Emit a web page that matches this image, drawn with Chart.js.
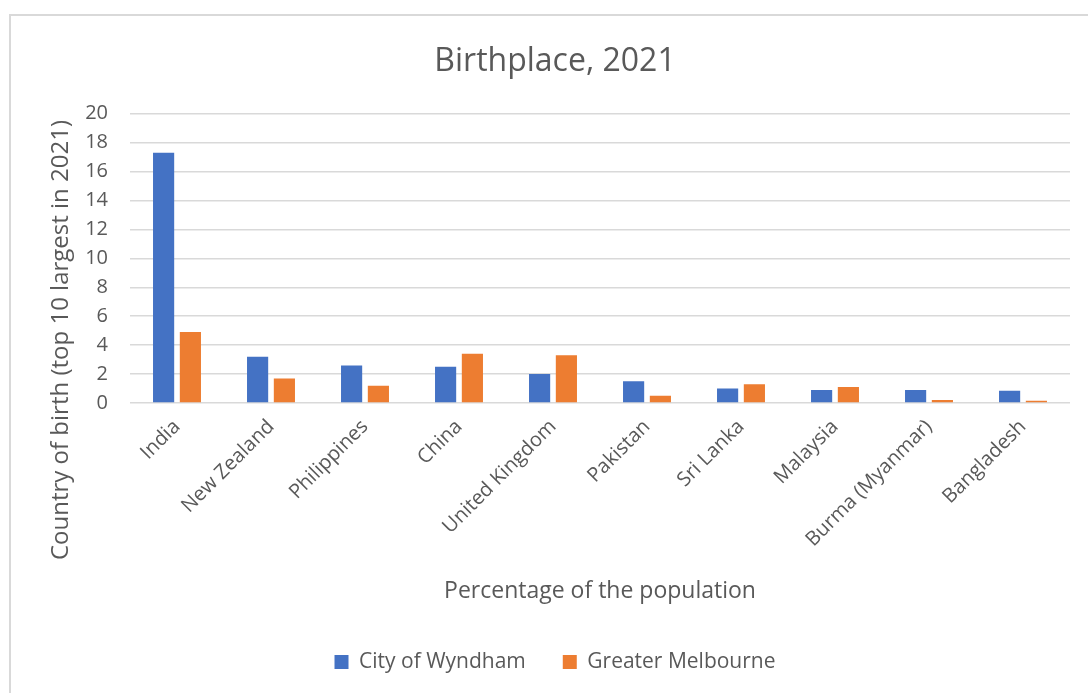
<!DOCTYPE html>
<html>
<head>
<meta charset="utf-8">
<script src="https://cdn.jsdelivr.net/npm/chart.js@4/dist/chart.umd.min.js"></script>
<style>
	body { margin: 0; background: #fff; }
	#frame { position: absolute; left: 9px; top: 14px; width: 1079px; height: 679px; border-left: 2px solid #d9d9d9; border-top: 2px solid #d9d9d9; }
	#wrap { position: absolute; left: 0; top: 0; width: 1070px; height: 693px; }
</style>
</head>
<body>
<div id="frame"></div>
<div id="wrap"><canvas id="chart" width="1070" height="693"></canvas></div>
<script>
const countries = ["India", "New Zealand", "Philippines", "China", "United Kingdom", "Pakistan", "Sri Lanka", "Malaysia", "Burma (Myanmar)", "Bangladesh"];
const wyndham = [17.3, 3.2, 2.6, 2.5, 2.0, 1.5, 1.0, 0.9, 0.9, 0.85];
const melbourne = [4.9, 1.7, 1.2, 3.4, 3.3, 0.5, 1.3, 1.1, 0.2, 0.15];
const yTicks = [0, 2, 4, 6, 8, 10, 12, 14, 16, 18, 20];

const grey = "#595959";
const font = "'Open Sans', 'DejaVu Sans', sans-serif";

// y title sits lower than the plot centre, like the original
const yTitle = {
	id: "yTitle",
	afterDraw: function (chart) {
		const ctx = chart.ctx;
		ctx.save();
		ctx.translate(61, 340);
		ctx.rotate(-Math.PI / 2);
		ctx.font = "24px " + font;
		ctx.fillStyle = grey;
		ctx.textAlign = "center";
		ctx.textBaseline = "middle";
		ctx.fillText("Country of birth (top 10 largest in 2021)", 0, 0);
		ctx.restore();
	}
};

new Chart(document.getElementById("chart").getContext("2d"), {
	type: "bar",
	data: {
		labels: countries,
		datasets: [{
			label: "City of Wyndham",
			data: wyndham,
			backgroundColor: "#4472C4"
		}, {
			label: "Greater Melbourne",
			data: melbourne,
			backgroundColor: "#ED7D31"
		}]
	},
	options: {
		responsive: false,
		animation: false,
		categoryPercentage: 0.57,
		barPercentage: 0.79,
		layout: {
			padding: { top: 20, left: 40, right: 0, bottom: 10.5 }
		},
		plugins: {
			title: {
				display: true,
				text: "Birthplace, 2021",
				color: grey,
				font: { family: font, size: 32, weight: "normal" },
				padding: { top: 22.8, bottom: 32.5 }
			},
			legend: {
				position: "bottom",
				labels: {
					color: grey,
					font: { family: font, size: 21 },
					boxWidth: 14,
					boxHeight: 14,
					padding: 37
				}
			},
			tooltip: { enabled: false }
		},
		scales: {
			x: {
				grid: { display: false },
				border: { display: false },
				ticks: {
					color: grey,
					font: { family: font, size: 20 },
					maxRotation: 45,
					minRotation: 45,
					padding: 4
				},
				title: {
					display: true,
					text: "Percentage of the population",
					color: grey,
					font: { family: font, size: 23 },
					padding: { top: 0, bottom: 9.7 }
				},
				afterFit: (scale) => { scale.height = 211.5; }
			},
			y: {
				min: 0,
				max: 20,
				afterBuildTicks: (scale) => { scale.ticks = yTicks.map(v => ({ value: v })); },
				grid: { color: "#d9d9d9", lineWidth: 1.5, drawTicks: false },
				border: { display: false },
				ticks: {
					color: grey,
					font: { family: font, size: 20 },
					padding: 22
				},
				afterFit: (scale) => { scale.width = 90; }
			}
		}
	},
	plugins: [yTitle]
});
</script>
</body>
</html>
